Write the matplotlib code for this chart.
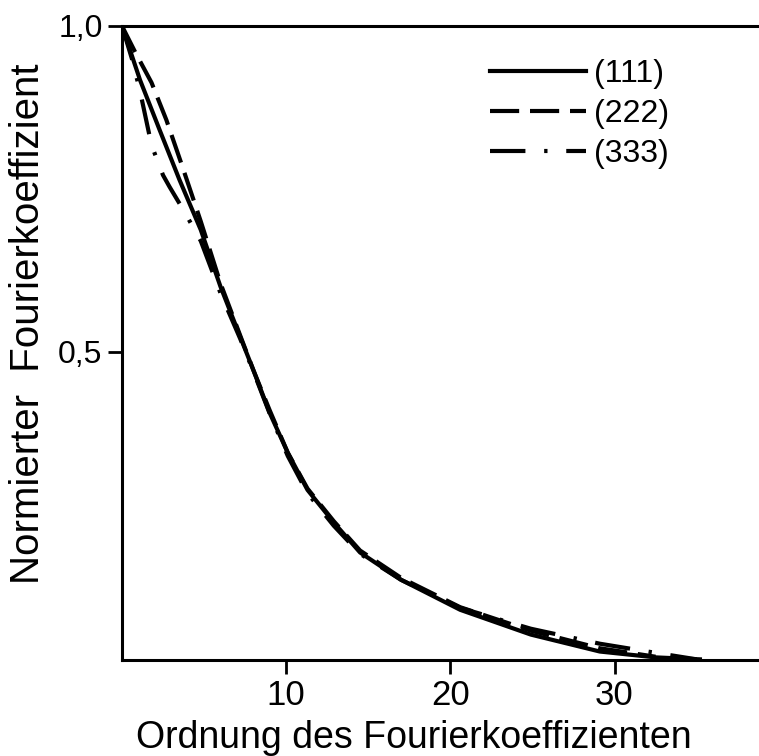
import matplotlib
matplotlib.use("Agg")
import matplotlib.pyplot as plt

plt.rcParams['font.family'] = ['Liberation Sans', 'DejaVu Sans']

# Normierte Fourierkoeffizienten der drei Reflexe
x111 = [0, 1.1, 2.3, 3.5, 4.8, 6.0, 7.2, 8.0, 9.0, 10.1, 11.3, 12.9, 14.5, 17.0, 20.6, 24.9, 29.1, 32.5, 35.2]
y111 = [1.0, 0.917, 0.84, 0.764, 0.687, 0.60, 0.523, 0.472, 0.406, 0.345, 0.288, 0.238, 0.192, 0.150, 0.104, 0.066, 0.040, 0.031, 0.028]

x222 = [0, 0.8, 1.8, 2.7, 3.6, 4.8, 6.0, 7.2, 8.0, 9.0, 10.1, 11.3, 12.9, 14.5, 17.0, 20.6, 24.9, 29.1, 32.5]
y222 = [1.0, 0.96, 0.913, 0.856, 0.79, 0.70, 0.605, 0.525, 0.472, 0.41, 0.345, 0.29, 0.24, 0.195, 0.153, 0.108, 0.072, 0.045, 0.032]

x333 = [0, 0.6, 1.1, 1.8, 2.5, 2.9, 3.8, 4.8, 6.0, 7.2, 8.0, 9.0, 10.1, 11.3, 12.9, 14.5, 17.0, 20.6, 24.9, 29.1, 32.5, 35.0]
y333 = [1.0, 0.95, 0.90, 0.817, 0.771, 0.753, 0.715, 0.67, 0.59, 0.52, 0.47, 0.405, 0.34, 0.283, 0.233, 0.19, 0.15, 0.107, 0.075, 0.052, 0.038, 0.028]

xticks = [10, 20, 30]
yticks = [0.5, 1.0]
yticklabels = ['0,5', '1,0']

fig = plt.figure(figsize=(7.59, 7.56), dpi=100)
ax = fig.add_axes([0.1607, 0.127, 0.8393, 0.8387])

lw = 3.0
ax.plot(x111, y111, color='black', lw=lw, label='(111)')
ax.plot(x222, y222, color='black', lw=lw, dashes=(7, 2.6), label='(222)')
ax.plot(x333, y333, color='black', lw=lw, dashes=(8.5, 4.5, 0.8, 4.5), label='(333)')

ax.set_xlim(0, 38.8)
ax.set_ylim(0.027, 1.0)

ax.spines['right'].set_visible(False)
for s in ['left', 'bottom', 'top']:
    ax.spines[s].set_linewidth(2.2)

ax.set_xticks(xticks)
ax.set_yticks(yticks)
ax.set_yticklabels(yticklabels)
ax.tick_params(axis='both', width=2, length=10, pad=4, direction='out')
ax.tick_params(axis='y', labelsize=23)
ax.tick_params(axis='x', labelsize=25)

fig.text(414 / 759, 1 - 738 / 756, 'Ordnung des Fourierkoeffizienten',
         ha='center', va='center', fontsize=27)
fig.text(28 / 759, 1 - 324 / 756, 'Normierter  Fourierkoeffizient',
         rotation=90, ha='center', va='center', fontsize=29)

ax.legend(loc='upper left', bbox_to_anchor=(0.578, 0.948), frameon=False,
          fontsize=23, handlelength=3.0, handletextpad=0.25,
          labelspacing=0.31, borderpad=0, borderaxespad=0)

fig.savefig('out.png', dpi=100)
